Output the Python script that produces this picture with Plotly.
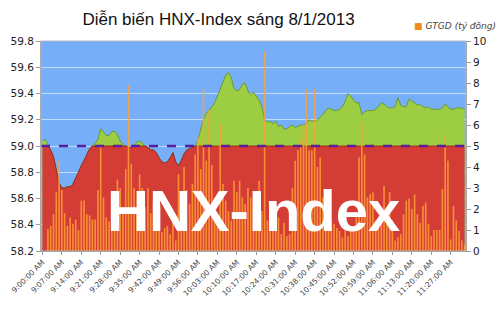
import plotly.graph_objects as go

# ---------------- data ----------------
times = [f"{9 + m // 60}:{m % 60:02d}:00 AM" for m in range(153)]

tick_labels = ["9:00:00 AM", "9:07:00 AM", "9:14:00 AM", "9:21:00 AM", "9:28:00 AM",
               "9:35:00 AM", "9:42:00 AM", "9:49:00 AM", "9:56:00 AM", "10:03:00 AM",
               "10:10:00 AM", "10:17:00 AM", "10:24:00 AM", "10:31:00 AM", "10:38:00 AM",
               "10:45:00 AM", "10:52:00 AM", "10:59:00 AM", "11:06:00 AM", "11:13:00 AM",
               "11:20:00 AM", "11:27:00 AM"]

hnx_index = [
    59.04, 59.05, 59.01, 58.97, 58.92, 58.82, 58.72, 58.68, 58.68, 58.69,
    58.69, 58.71, 58.76, 58.81, 58.85, 58.89, 58.93, 58.98, 59.00, 59.02,
    59.05, 59.13, 59.11, 59.08, 59.08, 59.11, 59.11, 59.09, 59.04, 59.01,
    59.00, 58.99, 58.99, 59.00, 59.03, 59.04, 59.02, 59.00, 58.99, 58.97,
    58.97, 58.95, 58.91, 58.88, 58.87, 58.88, 58.91, 58.95, 58.88, 58.85,
    58.89, 58.94, 58.97, 58.98, 58.99, 59.00, 59.05, 59.12, 59.20, 59.25,
    59.27, 59.30, 59.33, 59.38, 59.43, 59.49, 59.54, 59.56, 59.52, 59.44,
    59.42, 59.43, 59.47, 59.48, 59.42, 59.39, 59.41, 59.38, 59.35, 59.30,
    59.20, 59.18, 59.19, 59.17, 59.19, 59.15, 59.16, 59.13, 59.13, 59.15,
    59.16, 59.14, 59.15, 59.16, 59.16, 59.17, 59.20, 59.19, 59.19, 59.20,
    59.22, 59.24, 59.27, 59.29, 59.28, 59.27, 59.27, 59.28, 59.30, 59.34,
    59.40, 59.38, 59.35, 59.33, 59.33, 59.24, 59.26, 59.27, 59.27, 59.27,
    59.28, 59.30, 59.33, 59.32, 59.30, 59.29, 59.29, 59.30, 59.37, 59.31,
    59.30, 59.30, 59.36, 59.34, 59.33, 59.31, 59.32, 59.30, 59.29, 59.30,
    59.28, 59.28, 59.28, 59.28, 59.29, 59.32, 59.30, 59.28, 59.28, 59.29,
    59.29, 59.29, 59.28,
]

gtgd = [
    0.0, 0.0, 1.05, 1.2, 1.75, 2.8, 4.3, 2.9, 1.8, 1.2,
    1.6, 1.3, 1.5, 1.0, 2.4, 2.4, 1.75, 1.7, 1.5, 1.5,
    2.9, 4.95, 2.55, 1.6, 1.4, 1.6, 2.8, 3.4, 3.0, 2.1,
    3.9, 7.9, 4.15, 3.0, 1.9, 3.65, 3.0, 2.1, 3.0, 1.8,
    2.4, 2.1, 1.3, 0.9, 1.1, 1.2, 0.8, 1.4, 0.5, 3.65,
    1.4, 4.0, 2.9, 2.25, 3.2, 4.6, 5.4, 3.9, 7.7, 4.3,
    6.7, 4.1, 2.55, 1.75, 6.05, 3.2, 2.4, 1.9, 1.45, 3.35,
    2.8, 3.35, 2.55, 2.25, 3.0, 2.55, 2.1, 2.4, 3.35, 1.9,
    9.5, 1.45, 0.95, 1.75, 1.1, 1.6, 0.8, 1.35, 0.7, 0.8,
    3.0, 4.3, 4.8, 5.3, 6.0, 7.7, 4.8, 4.8, 7.7, 4.0,
    4.45, 2.55, 2.1, 1.75, 1.45, 1.3, 1.1, 0.95, 0.65, 1.1,
    0.7, 0.95, 1.1, 1.6, 4.45, 6.15, 4.6, 2.55, 2.7, 2.8,
    1.45, 1.1, 1.75, 3.1, 1.9, 2.8, 1.45, 0.5, 0.65, 0.8,
    1.75, 2.4, 2.5, 2.0, 2.7, 1.75, 1.35, 2.15, 2.3, 1.3,
    0.7, 1.0, 1.0, 1.0, 2.95, 5.5, 4.3, 0.55, 2.15, 1.45,
    0.95, 0.5, 0.3,
]

ref_price = 59.0

# ---------------- figure ----------------
below_ref = [min(v, ref_price) for v in hnx_index]

fig = go.Figure()
fig.add_trace(go.Scatter(
    x=times, y=hnx_index, mode="lines", fill="tozeroy",
    fillcolor="#9dcd42", line=dict(color="#5f8f22", width=0.8),
    showlegend=False, hoverinfo="skip"))
fig.add_trace(go.Scatter(
    x=times, y=below_ref, mode="lines", fill="tozeroy",
    fillcolor="#d43c36", line=dict(color="#8e1e1a", width=0.8),
    showlegend=False, hoverinfo="skip"))
fig.add_trace(go.Bar(
    x=times, y=gtgd, yaxis="y2", name="GTGD (tỷ đồng)",
    marker=dict(color="rgba(255,162,52,0.82)", line=dict(width=0)),
    showlegend=False))

fig.add_shape(type="line", xref="paper", yref="y", x0=0, x1=1,
              y0=ref_price, y1=ref_price, layer="above",
              line=dict(color="#5b1e9e", width=2.5, dash="dash"))
fig.add_shape(type="rect", xref="paper", yref="paper", x0=0, x1=1, y0=0, y1=1,
              layer="above", line=dict(color="#b8b8b8", width=1))

fig.add_annotation(text="<b>HNX-Index</b>", xref="paper", yref="paper",
                   x=0.50, y=0.03, showarrow=False,
                   font=dict(family="Liberation Sans", size=58, color="white"))
fig.add_annotation(text='<span style="color:#f08a1e">■</span> <i>GTGD (tỷ đồng)</i>',
                   xref="paper", yref="paper", x=1.075, y=1.07,
                   xanchor="right", yanchor="middle", showarrow=False,
                   font=dict(family="DejaVu Sans", size=9, color="#444"))

fig.update_layout(
    template="none",
    width=500, height=313,
    margin=dict(l=41, r=34, t=41, b=62),
    paper_bgcolor="white",
    plot_bgcolor="#76aff7",
    bargap=0.42,
    title=dict(text="Diễn biến HNX-Index sáng 8/1/2013", x=0.437, xanchor="center",
               y=0.94, yanchor="middle",
               font=dict(family="Liberation Sans", size=17, color="#111")),
    font=dict(family="DejaVu Sans", color="#222"),
    xaxis=dict(type="category", tickmode="array", tickvals=tick_labels,
               tickangle=-45, tickfont=dict(size=7.5, color="#444"),
               range=[-0.5, len(times) - 0.5], showgrid=False,
               ticks="outside", ticklen=3, tickcolor="#999",
               showline=True, linecolor="#999", automargin=False),
    yaxis=dict(range=[58.2, 59.8], dtick=0.2, tickformat=".1f",
               tickfont=dict(size=10.5, color="#222"),
               gridcolor="rgba(255,255,255,0.55)", gridwidth=1, zeroline=False,
               ticks="outside", ticklen=4, tickcolor="#999",
               showline=True, linecolor="#999", automargin=False),
    yaxis2=dict(range=[0, 10], dtick=1, overlaying="y", side="right",
                tickfont=dict(size=10.5, color="#222"), showgrid=False,
                zeroline=False, ticks="outside", ticklen=4, tickcolor="#999",
                showline=True, linecolor="#999", automargin=False),
)

fig.write_html("out.html")
